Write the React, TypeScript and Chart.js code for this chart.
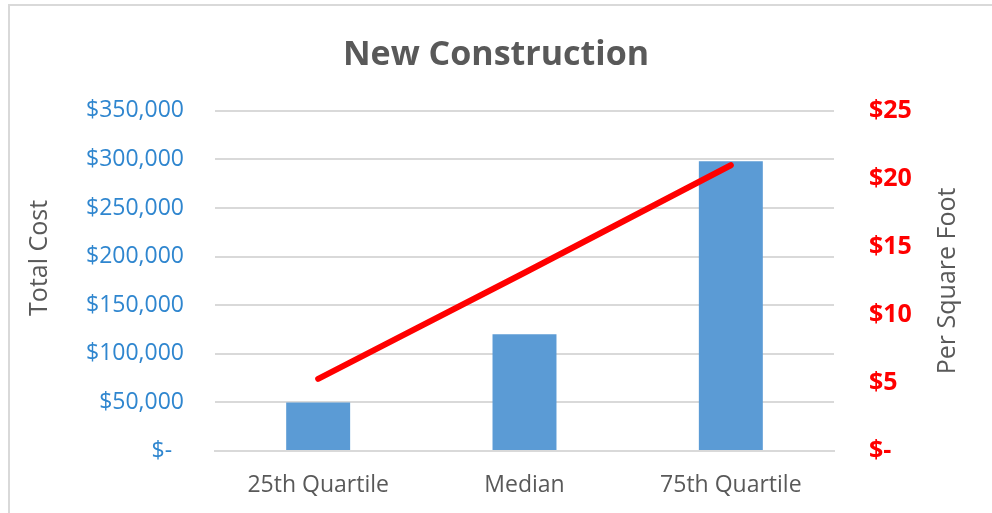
import React, { useEffect, useRef } from "react";
import { Chart, registerables } from "chart.js";

Chart.register(...registerables);

const chartTitle = "New Construction";
const categories = ["25th Quartile", "Median", "75th Quartile"];
const totalCost = [50000, 120000, 298000];
const perSquareFoot = [5.3, 13.1, 21.0];
const leftAxisTitle = "Total Cost";
const rightAxisTitle = "Per Square Foot";
const leftMax = 350000;
const leftStep = 50000;
const rightMax = 25;
const rightStep = 5;

const FONT = "'Open Sans', 'Noto Sans', sans-serif";
const GRAY = "#595959";
const GRID = "#d9d9d9";

const axisTitlesPlugin = {
  id: "axisTitles",
  afterDraw(chart: any) {
    const { ctx, chartArea } = chart;
    const yL = chart.scales.y;
    const yR = chart.scales.y1;
    const midY = (chartArea.top + chartArea.bottom) / 2;
    ctx.save();
    ctx.font = `25px ${FONT}`;
    ctx.fillStyle = GRAY;
    ctx.textAlign = "center";
    ctx.textBaseline = "middle";
    ctx.save();
    ctx.translate(yL.left + 40, midY - 23);
    ctx.rotate(-Math.PI / 2);
    ctx.fillText(leftAxisTitle, 0, 0);
    ctx.restore();
    ctx.save();
    ctx.translate(yR.right - 44, midY);
    ctx.rotate(-Math.PI / 2);
    ctx.fillText(rightAxisTitle, 0, 0);
    ctx.restore();
    ctx.restore();
  },
};

export default function App() {
  const ref = useRef<HTMLCanvasElement | null>(null);

  useEffect(() => {
    if (!ref.current) return;
    const chart = new Chart(ref.current, {
      type: "bar",
      data: {
        labels: categories,
        datasets: [
          {
            type: "line",
            label: "Per Square Foot",
            data: perSquareFoot,
            yAxisID: "y1",
            borderColor: "#FF0000",
            backgroundColor: "#FF0000",
            borderWidth: 6,
            borderCapStyle: "round",
            pointRadius: 0,
            tension: 0,
            order: 0,
          } as any,
          {
            type: "bar",
            label: "Total Cost",
            data: totalCost,
            yAxisID: "y",
            backgroundColor: "#5B9BD5",
            borderWidth: 0,
            barPercentage: 0.31,
            categoryPercentage: 1,
            order: 1,
          },
        ],
      },
      options: {
        responsive: false,
        animation: false,
        devicePixelRatio: 1,
        layout: { padding: 0 },
        plugins: {
          legend: { display: false },
          tooltip: { enabled: false },
          title: {
            display: true,
            text: chartTitle,
            color: GRAY,
            font: { family: FONT, size: 34, weight: "bold" },
            padding: { top: 35, bottom: 35 },
          },
        },
        scales: {
          x: {
            grid: { display: false, drawTicks: false },
            border: { display: true, color: GRID, width: 2 },
            ticks: {
              color: GRAY,
              font: { family: FONT, size: 23 },
              padding: 21,
              maxRotation: 0,
            },
            afterFit(scale: any) {
              scale.height = 62;
            },
          },
          y: {
            position: "left",
            min: 0,
            max: leftMax,
            grid: { color: GRID, lineWidth: 2, drawTicks: false },
            border: { display: false },
            ticks: {
              stepSize: leftStep,
              color: "#2F86CF",
              font: { family: FONT, size: 23 },
              padding: 31,
              callback: (v: any) =>
                Number(v) === 0 ? "$-  " : "$" + Number(v).toLocaleString("en-US"),
            },
            afterFit(scale: any) {
              scale.width = 215;
            },
          },
          y1: {
            position: "right",
            min: 0,
            max: rightMax,
            grid: { drawOnChartArea: false, drawTicks: false },
            border: { display: false },
            ticks: {
              stepSize: rightStep,
              color: "#FF0000",
              font: { family: FONT, size: 25, weight: "bold" },
              padding: 35,
              callback: (v: any) => (Number(v) === 0 ? "$-" : "$" + v),
            },
            afterFit(scale: any) {
              scale.width = 158;
            },
          },
        },
      },
      plugins: [axisTitlesPlugin],
    });
    return () => chart.destroy();
  }, []);

  return (
    <div
      style={{
        position: "fixed",
        left: 0,
        top: 0,
        width: 992,
        height: 513,
        background: "#fff",
        overflow: "hidden",
      }}
    >
      <div
        style={{
          position: "absolute",
          left: 8,
          top: 4,
          width: 1100,
          height: 600,
          borderTop: "2px solid #d9d9d9",
          borderLeft: "2px solid #d9d9d9",
        }}
      />
      <canvas
        ref={ref}
        width={992}
        height={513}
        style={{ position: "absolute", left: 0, top: 0, width: 992, height: 513 }}
      />
    </div>
  );
}
